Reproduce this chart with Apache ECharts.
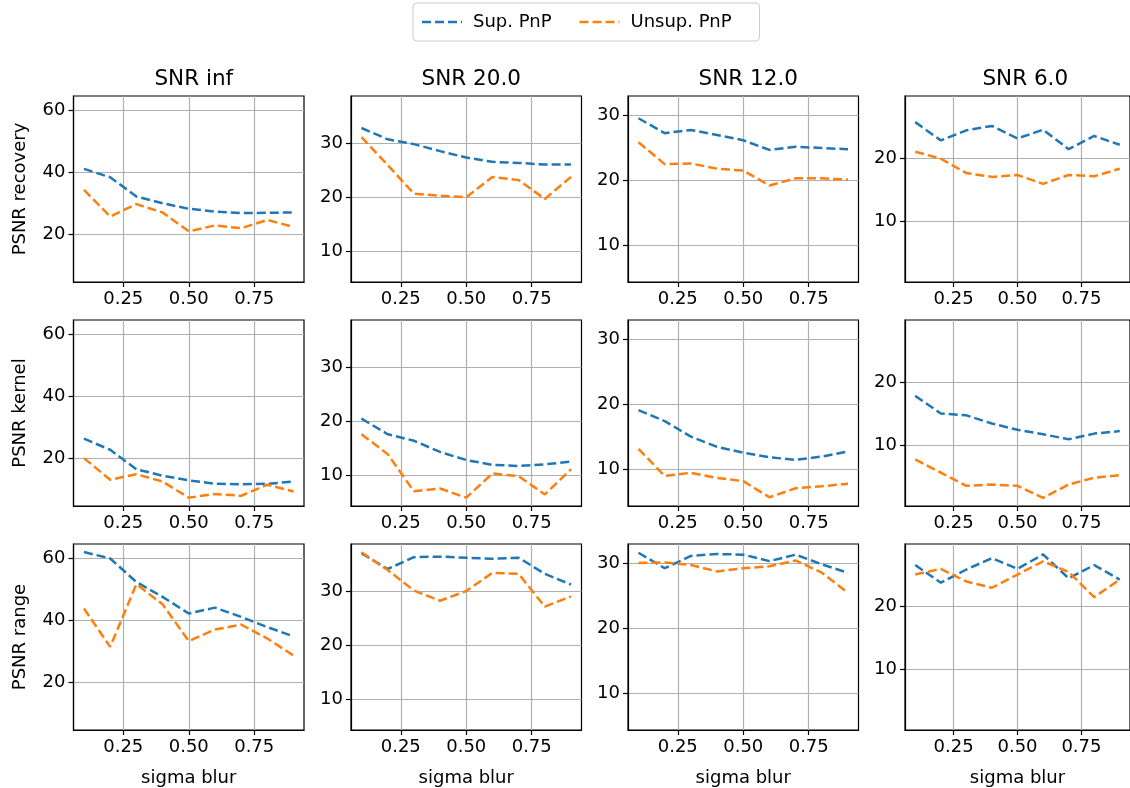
<!DOCTYPE html>
<html>
<head>
<meta charset="utf-8">
<script src="https://cdn.jsdelivr.net/npm/echarts@6/dist/echarts.min.js"></script>
<style>
  html, body { margin: 0; padding: 0; background: #fff; }
  #chart { width: 1130px; height: 788px; }
</style>
</head>
<body>
<div id="chart"></div>
<script>
// ---- data ----
const sigma = [0.1, 0.2, 0.3, 0.4, 0.5, 0.6, 0.7, 0.8, 0.9];
const snrTitles = ['SNR inf', 'SNR 20.0', 'SNR 12.0', 'SNR 6.0'];
const rowLabels = ['PSNR recovery', 'PSNR kernel', 'PSNR range'];
const seriesNames = ['Sup. PnP', 'Unsup. PnP'];
const xTicks = [0.25, 0.5, 0.75];
const yTicks = [[20, 40, 60], [10, 20, 30], [10, 20, 30], [10, 20]];

// PSNR recovery (one list per SNR column)
const supRecovery = [
  [41.1, 38.4, 32.2, 30.0, 28.2, 27.3, 26.8, 26.9, 27.0],
  [32.9, 30.8, 29.9, 28.6, 27.4, 26.6, 26.4, 26.1, 26.1],
  [29.6, 27.3, 27.8, 27.0, 26.2, 24.7, 25.2, 25.0, 24.8],
  [25.7, 22.8, 24.4, 25.1, 23.1, 24.5, 21.4, 23.5, 22.1]
];
const unsupRecovery = [
  [34.3, 25.7, 29.7, 27.0, 20.9, 22.8, 21.9, 24.6, 22.3],
  [31.2, 26.0, 20.7, 20.3, 20.0, 23.8, 23.2, 19.7, 23.8],
  [25.9, 22.5, 22.6, 21.8, 21.5, 19.2, 20.3, 20.3, 20.1],
  [21.0, 19.9, 17.6, 17.0, 17.3, 15.9, 17.3, 17.1, 18.3]
];
// PSNR kernel
const supKernel = [
  [26.3, 22.7, 16.4, 14.3, 12.8, 11.7, 11.5, 11.7, 12.4],
  [20.5, 17.6, 16.4, 14.3, 12.8, 11.9, 11.7, 12.0, 12.5],
  [19.1, 17.4, 15.0, 13.4, 12.5, 11.8, 11.4, 11.9, 12.7],
  [17.8, 15.0, 14.7, 13.4, 12.4, 11.7, 10.9, 11.8, 12.2]
];
const unsupKernel = [
  [20.0, 13.0, 14.8, 12.4, 7.2, 8.4, 7.8, 11.4, 9.2],
  [17.6, 13.9, 7.0, 7.5, 5.8, 10.3, 9.8, 6.4, 11.1],
  [13.1, 8.9, 9.4, 8.6, 8.1, 5.6, 7.0, 7.3, 7.7],
  [7.7, 5.6, 3.5, 3.7, 3.5, 1.6, 3.7, 4.8, 5.2]
];
// PSNR range
const supRange = [
  [62.1, 60.0, 52.4, 47.6, 42.2, 44.1, 41.1, 37.8, 34.8],
  [37.1, 34.2, 36.4, 36.5, 36.3, 36.1, 36.3, 33.3, 31.3],
  [31.7, 29.3, 31.2, 31.5, 31.4, 30.4, 31.4, 29.9, 28.6],
  [26.5, 23.7, 25.8, 27.6, 25.9, 28.2, 24.4, 26.5, 24.2]
];
const unsupRange = [
  [43.8, 31.4, 51.7, 45.2, 33.3, 37.0, 38.6, 34.1, 28.6],
  [37.3, 34.0, 30.2, 28.3, 30.1, 33.5, 33.3, 27.2, 29.1],
  [30.1, 30.2, 29.8, 28.8, 29.3, 29.6, 30.5, 28.6, 25.5],
  [25.0, 25.9, 23.9, 22.9, 25.0, 27.1, 25.4, 21.4, 24.2]
];

// ---- layout / style ----
const supRows = [supRecovery, supKernel, supRange];
const unsupRows = [unsupRecovery, unsupKernel, unsupRange];
const colLeft = [73.5, 351, 628, 905];
const rowTop = [96, 320, 544];
const gridW = 230.5, gridH = 186;
const yRange = [[4.5, 64.7], [4.25, 38.85], [4.25, 33.05], [0.3, 29.85]];
const xRange = [0.06, 0.94];
const colors = ['#1f77b4', '#ff7f0e'];
const FONT = 'DejaVu Sans';
const FS = 18;
const dashIcon = 'path://M0,0h9v2.5h-9z M13,0h9v2.5h-9z M26,0h9v2.5h-9z M39,0h1v2.5h-1z';

const grids = [], xAxes = [], yAxes = [], series = [], titles = [];
let gi = 0;
for (let r = 0; r < 3; r++) {
  for (let c = 0; c < 4; c++) {
    grids.push({
      left: colLeft[c], top: rowTop[r], width: gridW, height: gridH,
      show: true, borderColor: '#000', borderWidth: 1.2, backgroundColor: 'transparent'
    });
    xAxes.push({
      type: 'value', gridIndex: gi, min: xRange[0], max: xRange[1],
      axisLine: { show: true, onZero: false, lineStyle: { color: '#000', width: 1.2 } },
      axisTick: { show: true, length: 5, lineStyle: { color: '#000', width: 1.2 }, customValues: xTicks },
      axisLabel: {
        show: true, customValues: xTicks, color: '#000', fontFamily: FONT, fontSize: FS, margin: 8,
        formatter: v => v.toFixed(2)
      },
      splitLine: { show: true, lineStyle: { color: '#b0b0b0', width: 1.2 } },
      name: r === 2 ? 'sigma blur' : '',
      nameLocation: 'middle', nameGap: 39,
      nameTextStyle: { color: '#000', fontFamily: FONT, fontSize: FS }
    });
    yAxes.push({
      type: 'value', gridIndex: gi, min: yRange[c][0], max: yRange[c][1],
      axisLine: { show: true, onZero: false, lineStyle: { color: '#000', width: 1.2 } },
      axisTick: { show: true, length: 5, lineStyle: { color: '#000', width: 1.2 }, customValues: yTicks[c] },
      axisLabel: {
        show: true, customValues: yTicks[c], color: '#000', fontFamily: FONT, fontSize: FS, margin: 8,
        formatter: v => String(Math.round(v))
      },
      splitLine: { show: true, lineStyle: { color: '#b0b0b0', width: 1.2 } },
      name: c === 0 ? rowLabels[r] : '',
      nameLocation: 'middle', nameRotate: 90, nameGap: 44,
      nameTextStyle: { color: '#000', fontFamily: FONT, fontSize: FS }
    });
    const sets = [supRows[r][c], unsupRows[r][c]];
    sets.forEach((vals, k) => {
      series.push({
        type: 'line', name: seriesNames[k], xAxisIndex: gi, yAxisIndex: gi,
        data: sigma.map((s, i) => [s, vals[i]]),
        showSymbol: false, symbol: 'none', silent: true, animation: false,
        lineStyle: { color: colors[k], width: 2.5, type: [9, 4] },
        itemStyle: { color: colors[k] }
      });
    });
    gi++;
  }
}
for (let c = 0; c < 4; c++) {
  titles.push({
    text: snrTitles[c], left: colLeft[c] + gridW / 2, top: 63, textAlign: 'center',
    textStyle: { color: '#000', fontFamily: FONT, fontSize: 21.5, fontWeight: 'normal' }
  });
}

const chart = echarts.init(document.getElementById('chart'), null, { renderer: 'canvas' });
chart.setOption({
  backgroundColor: '#fff',
  animation: false,
  title: titles,
  legend: {
    data: seriesNames.map((n, k) => ({ name: n, icon: dashIcon, itemStyle: { color: colors[k] } })),
    top: 3, left: 413,
    itemWidth: 40, itemHeight: 2.5, itemGap: 28,
    borderColor: '#cccccc', borderWidth: 1, borderRadius: 4,
    padding: [8, 28, 8, 9],
    textStyle: { color: '#000', fontFamily: FONT, fontSize: FS, padding: [0, 0, 0, 6], lineHeight: 22 }
  },
  grid: grids,
  xAxis: xAxes,
  yAxis: yAxes,
  series: series
});
</script>
</body>
</html>
